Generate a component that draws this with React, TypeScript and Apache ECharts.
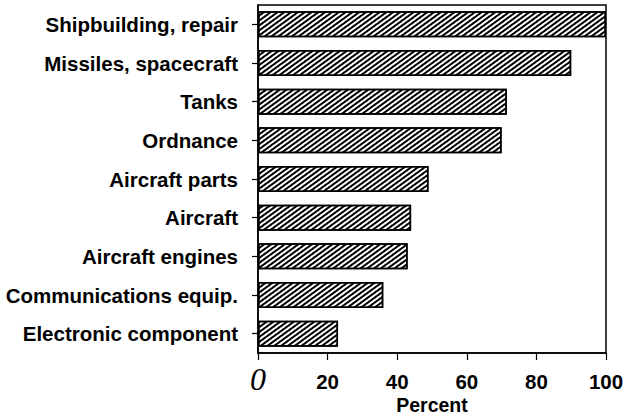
import React, { useEffect, useRef } from "react";
import * as echarts from "echarts";

const categories = [
  "Shipbuilding, repair",
  "Missiles, spacecraft",
  "Tanks",
  "Ordnance",
  "Aircraft parts",
  "Aircraft",
  "Aircraft engines",
  "Communications equip.",
  "Electronic component",
];
const values = [100, 90, 71.5, 70, 49, 44, 43, 36, 23];
const xTicks = [0, 20, 40, 60, 80, 100];
const xAxisTitle = "Percent";

const SANS = "'Liberation Sans', Arial, Helvetica, sans-serif";
const SERIF = "'Liberation Serif', 'Times New Roman', serif";

export default function App() {
  const ref = useRef<HTMLDivElement>(null);
  useEffect(() => {
    if (!ref.current) return;
    const chart = echarts.init(ref.current, undefined, { renderer: "svg" });
    chart.setOption({
      animation: false,
      backgroundColor: "#fff",
      grid: {
        left: 258,
        right: 34,
        top: 5,
        bottom: 63,
        containLabel: false,
        outerBoundsMode: "none",
        show: true,
        borderColor: "#000",
        borderWidth: 1.5,
        backgroundColor: "transparent",
      },
      xAxis: {
        type: "value",
        min: xTicks[0],
        max: xTicks[xTicks.length - 1],
        interval: 20,
        name: xAxisTitle,
        nameLocation: "middle",
        nameGap: 42,
        nameMoveOverlap: false,
        nameTextStyle: { fontFamily: SANS, fontWeight: "bold", fontSize: 19.5, color: "#000" },
        axisLine: { show: true, lineStyle: { color: "#000", width: 1.5 } },
        axisTick: { show: true, inside: false, length: 7, lineStyle: { color: "#000", width: 1.2 } },
        splitLine: { show: false },
        axisLabel: {
          margin: 18,
          fontFamily: SANS,
          fontWeight: "bold",
          fontSize: 20.5,
          color: "#000",
          formatter: (v: number) => (v === 0 ? "{zero|0}" : String(v)),
          rich: {
            zero: {
              fontFamily: SERIF,
              fontStyle: "italic",
              fontWeight: "normal",
              fontSize: 32,
              lineHeight: 16,
              color: "#000",
            },
          },
        },
      },
      yAxis: {
        type: "category",
        data: categories,
        inverse: true,
        axisLine: { show: true, lineStyle: { color: "#000", width: 1.5 } },
        axisTick: { show: true, alignWithLabel: true, length: 6, lineStyle: { color: "#000", width: 1.2 } },
        axisLabel: {
          margin: 20,
          fontFamily: SANS,
          fontWeight: "bold",
          fontSize: 20.5,
          color: "#000",
        },
        splitLine: { show: false },
      },
      series: [
        {
          type: "bar",
          data: values,
          barWidth: 26,
          itemStyle: {
            color: "#fff",
            borderColor: "#000",
            borderWidth: 1.5,
            decal: {
              symbol: "rect",
              color: "#000",
              backgroundColor: "#fff",
              dashArrayX: [1, 0],
              dashArrayY: [1.2, 1.5],
              rotation: -Math.PI / 5,
            },
          },
        },
      ],
    });
    return () => chart.dispose();
  }, []);
  return (
    <div
      ref={ref}
      style={{ position: "fixed", left: 0, top: 0, width: 640, height: 416, background: "#fff" }}
    />
  );
}
